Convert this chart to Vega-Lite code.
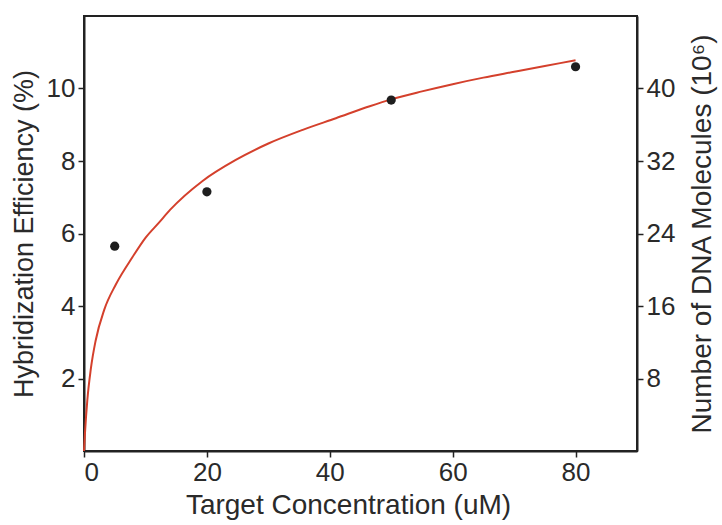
{
  "$schema": "https://vega.github.io/schema/vega-lite/v6.json",
  "autosize": "none",
  "width": 553,
  "height": 435,
  "padding": {"left": 84, "top": 16, "right": 85, "bottom": 74},
  "background": "white",
  "config": {
    "view": {"stroke": "#222", "strokeWidth": 2},
    "font": "Liberation Sans",
    "axis": {
      "labelFont": "Liberation Sans",
      "titleFont": "Liberation Sans",
      "labelFontSize": 26,
      "titleFontSize": 27,
      "titleFontWeight": "normal",
      "labelColor": "#2a2a2a",
      "titleColor": "#2a2a2a",
      "domainColor": "#222",
      "domainWidth": 2,
      "tickColor": "#222",
      "tickWidth": 1.5,
      "tickSize": 6,
      "grid": false
    }
  },
  "datasets": {
    "curve": [
      {"x": 0, "y": 0},
      {"x": 0.16, "y": 0.5},
      {"x": 0.54, "y": 1.4},
      {"x": 1.1, "y": 2.25},
      {"x": 1.9, "y": 3.05},
      {"x": 3.3, "y": 3.9},
      {"x": 5.2, "y": 4.6},
      {"x": 7.9, "y": 5.35},
      {"x": 10.0, "y": 5.88},
      {"x": 12.2, "y": 6.3},
      {"x": 14.0, "y": 6.65},
      {"x": 19.3, "y": 7.45},
      {"x": 24.7, "y": 8.03},
      {"x": 30.1, "y": 8.49},
      {"x": 35.6, "y": 8.86},
      {"x": 41.0, "y": 9.18},
      {"x": 46.5, "y": 9.51},
      {"x": 50, "y": 9.7},
      {"x": 55, "y": 9.92},
      {"x": 60, "y": 10.12},
      {"x": 65, "y": 10.3},
      {"x": 70, "y": 10.46},
      {"x": 75, "y": 10.62},
      {"x": 80, "y": 10.78}
    ],
    "points": [
      {"conc": 5, "eff": 5.65, "molecules": 22.6},
      {"conc": 20, "eff": 7.15, "molecules": 28.6},
      {"conc": 50, "eff": 9.68, "molecules": 38.7},
      {"conc": 80, "eff": 10.6, "molecules": 42.4}
    ]
  },
  "layer": [
    {
      "layer": [
        {
          "data": {"name": "curve"},
          "mark": {"type": "line", "color": "#d4402c", "strokeWidth": 2, "interpolate": "monotone"},
          "encoding": {
            "x": {
              "field": "x", "type": "quantitative",
              "scale": {"domain": [0, 90], "nice": false},
              "axis": {"values": [0, 20, 40, 60, 80], "title": "Target Concentration (uM)", "titlePadding": 6, "labelPadding": 2, "titleX": 264, "titleFontSize": 28}
            },
            "y": {
              "field": "y", "type": "quantitative",
              "scale": {"domain": [0, 12], "nice": false},
              "axis": {"values": [2, 4, 6, 8, 10], "title": "Hybridization Efficiency (%)", "titlePadding": 8, "labelPadding": 3}
            }
          }
        },
        {
          "data": {"name": "points"},
          "mark": {"type": "point", "filled": true, "color": "#1e1e1e", "size": 85, "opacity": 1},
          "encoding": {
            "x": {"field": "conc", "type": "quantitative"},
            "y": {"field": "eff", "type": "quantitative"}
          }
        }
      ]
    },
    {
      "data": {"name": "points"},
      "mark": {"type": "point", "opacity": 0},
      "encoding": {
        "x": {"field": "conc", "type": "quantitative"},
        "y": {
          "field": "molecules", "type": "quantitative",
          "scale": {"domain": [0, 48], "nice": false},
          "axis": {"orient": "right", "values": [8, 16, 24, 32, 40], "title": "Number of DNA Molecules (10⁶)", "titlePadding": 14, "labelPadding": 3, "titleAngle": 270, "titleBaseline": "top", "titleFontSize": 28}
        }
      }
    }
  ],
  "resolve": {"scale": {"y": "independent"}}
}
